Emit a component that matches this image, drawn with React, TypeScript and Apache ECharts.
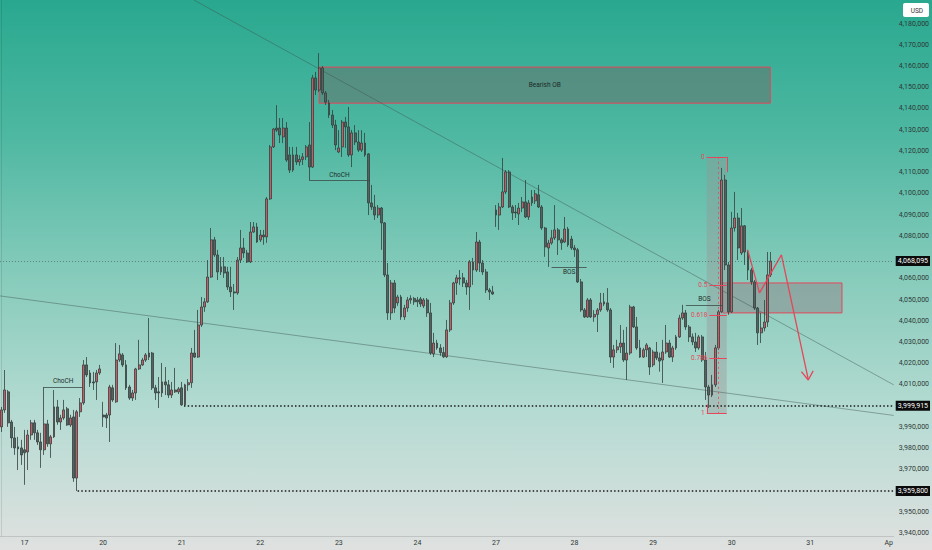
import React, { useEffect, useRef } from 'react';
import * as echarts from 'echarts';

// hourly candles, price in thousands: [open, close, low, high]
const day16 = [
  [3990.0, 3998.0, 3987.6, 3999.4], [3998.0, 4007.4, 3996.6, 4016.8], [4006.5, 3991.9, 3990.0, 4007.4],
  [3992.3, 3984.8, 3980.1, 3993.3], [3984.8, 3980.1, 3976.8, 3990.0], [3980.6, 3979.6, 3969.7, 3985.3],
  [3980.1, 3976.8, 3972.1, 3983.9],
];
const day17 = [
  [3979.2, 3977.8, 3962.7, 3988.6], [3978.2, 3986.2, 3969.7, 3988.6], [3986.2, 3991.9, 3983.9, 3993.3],
  [3991.9, 3987.2, 3983.9, 3993.3], [3987.2, 3982.9, 3981.5, 3988.6], [3982.9, 3979.2, 3970.7, 3987.2],
  [3979.2, 3991.4, 3976.8, 4008.8], [3991.4, 3982.0, 3980.6, 3993.3], [3982.0, 3985.3, 3975.4, 3986.2],
  [3985.3, 3999.4, 3984.8, 4007.4], [3999.4, 3992.3, 3991.0, 4002.7], [3992.3, 3994.2, 3988.6, 3995.7],
  [3994.2, 3998.0, 3993.3, 4002.7], [3998.5, 3990.9, 3990.5, 3999.4], [3990.9, 3994.2, 3990.0, 3995.7],
  [3994.7, 3965.9, 3964.1, 3998.0], [3965.9, 3997.1, 3959.8, 3998.0], [3997.1, 4001.3, 3994.7, 4003.6],
  [4001.3, 4019.2, 4000.4, 4021.5], [4019.2, 4014.5, 4013.5, 4022.9], [4015.4, 4010.7, 4008.8, 4016.8],
  [4011.2, 4010.7, 4007.4, 4015.9], [4011.2, 4015.4, 4002.7, 4016.8], [4015.4, 4017.3, 4014.5, 4019.2],
];
const day20 = [
  [3995.6, 3994.7, 3990.0, 4001.8], [3995.6, 3994.2, 3989.5, 3996.6], [3995.6, 4008.8, 3982.9, 4009.8],
  [4008.4, 4002.7, 4001.8, 4009.8], [4001.8, 4021.5, 4001.3, 4029.5], [4021.5, 4024.4, 4020.6, 4028.6],
  [4023.9, 4019.2, 4018.2, 4024.8], [4019.2, 4008.4, 4007.4, 4021.5], [4008.8, 4003.6, 4002.7, 4009.8],
  [4003.6, 4006.0, 4002.2, 4007.4], [4006.0, 4017.3, 4002.7, 4017.8], [4017.3, 4019.2, 4016.8, 4031.0],
  [4019.2, 4021.5, 4018.7, 4022.5], [4021.5, 4023.9, 4020.6, 4024.8], [4024.8, 4022.9, 4021.5, 4041.3],
  [4024.8, 4008.4, 4007.4, 4025.3], [4008.4, 4006.0, 4002.7, 4009.8], [4006.5, 4006.0, 3998.9, 4013.5],
  [4006.0, 4011.2, 4004.1, 4020.1], [4011.2, 4009.8, 4005.0, 4018.2], [4009.8, 4005.0, 4003.6, 4012.1],
  [4005.0, 4007.4, 4003.6, 4011.2], [4007.4, 4006.5, 4006.0, 4017.8], [4006.5, 4007.9, 4005.5, 4008.8],
];
const day21 = [
  [4008.4, 4000.4, 3999.9, 4011.2], [4000.4, 4009.8, 3999.9, 4010.3], [4009.8, 4010.8, 4007.0, 4012.5],
  [4010.8, 4024.8, 4008.4, 4027.2], [4024.8, 4022.9, 4022.5, 4035.7], [4022.9, 4038.0, 4022.5, 4045.1],
  [4038.0, 4046.5, 4037.1, 4051.2], [4046.5, 4048.9, 4044.2, 4050.7], [4048.9, 4060.6, 4048.4, 4068.6],
  [4060.6, 4078.1, 4060.2, 4083.7], [4078.1, 4071.0, 4070.1, 4079.5], [4071.0, 4063.0, 4059.2, 4073.4],
  [4063.0, 4065.4, 4061.6, 4070.0], [4065.4, 4062.5, 4060.2, 4070.0], [4063.0, 4055.9, 4054.5, 4065.4],
  [4055.9, 4053.6, 4051.2, 4065.4], [4053.6, 4053.1, 4045.1, 4057.3], [4053.1, 4068.6, 4052.2, 4070.0],
  [4068.6, 4074.3, 4067.2, 4082.8], [4074.3, 4071.9, 4069.6, 4079.0], [4071.9, 4067.7, 4067.2, 4073.4],
  [4067.7, 4081.8, 4067.2, 4086.5], [4081.8, 4084.2, 4081.4, 4086.5], [4084.2, 4077.1, 4076.7, 4086.1],
];
const day22 = [
  [4078.1, 4080.4, 4077.1, 4082.8], [4080.4, 4079.5, 4075.8, 4082.8], [4079.5, 4097.4, 4076.7, 4098.3],
  [4097.4, 4121.9, 4096.9, 4122.8], [4121.9, 4130.3, 4121.4, 4130.8], [4130.8, 4129.8, 4128.9, 4141.6],
  [4130.8, 4127.5, 4123.7, 4135.5], [4126.6, 4130.8, 4123.7, 4135.5], [4130.8, 4115.7, 4114.8, 4133.6],
  [4118.1, 4111.0, 4109.6, 4121.9], [4111.0, 4118.1, 4110.1, 4121.9], [4118.1, 4114.8, 4113.4, 4121.9],
  [4114.8, 4116.0, 4113.0, 4118.0], [4116.0, 4117.2, 4113.4, 4119.0], [4117.2, 4121.9, 4115.7, 4122.8],
  [4122.8, 4112.4, 4106.3, 4133.6], [4112.4, 4154.4, 4112.0, 4155.8], [4154.4, 4148.7, 4146.4, 4157.2],
  [4148.7, 4159.1, 4147.8, 4166.1], [4159.1, 4147.3, 4146.4, 4160.0], [4147.3, 4143.0, 4141.6, 4148.2],
  [4142.6, 4136.9, 4135.5, 4144.0], [4136.9, 4132.2, 4130.8, 4139.3], [4132.2, 4122.8, 4120.4, 4134.6],
];
const day23 = [
  [4119.5, 4121.4, 4119.0, 4129.8], [4121.9, 4133.6, 4117.2, 4134.6], [4133.6, 4131.3, 4121.4, 4136.0],
  [4131.3, 4118.1, 4117.2, 4140.7], [4118.1, 4128.5, 4112.4, 4129.9], [4128.5, 4124.2, 4122.8, 4132.2],
  [4124.2, 4120.4, 4119.5, 4129.8], [4120.4, 4123.7, 4119.5, 4129.8], [4123.7, 4118.1, 4117.2, 4128.5],
  [4118.6, 4095.5, 4089.8, 4119.0], [4095.5, 4093.6, 4092.2, 4104.0], [4093.6, 4089.8, 4087.5, 4099.3],
  [4089.8, 4093.1, 4088.4, 4094.5], [4093.1, 4086.1, 4073.4, 4093.6], [4086.1, 4061.6, 4060.6, 4086.5],
  [4061.6, 4043.7, 4040.4, 4067.2], [4043.7, 4057.8, 4040.4, 4059.2], [4057.8, 4046.0, 4043.7, 4059.2],
  [4048.4, 4051.2, 4047.0, 4052.2], [4051.2, 4041.8, 4040.4, 4052.2], [4041.8, 4046.0, 4040.4, 4047.5],
  [4046.0, 4049.8, 4044.2, 4051.2], [4049.8, 4050.5, 4048.0, 4052.0], [4050.5, 4048.9, 4047.5, 4051.2],
];
const day24 = [
  [4049.8, 4048.9, 4046.5, 4051.2], [4050.3, 4047.9, 4046.5, 4051.2], [4047.0, 4049.8, 4046.0, 4050.7],
  [4049.8, 4043.7, 4041.8, 4050.7], [4043.7, 4024.8, 4023.9, 4048.4], [4024.4, 4029.5, 4022.9, 4034.3],
  [4029.5, 4027.2, 4026.3, 4031.0], [4027.2, 4025.0, 4023.5, 4029.0], [4025.0, 4023.0, 4022.5, 4027.7],
  [4023.0, 4035.7, 4022.5, 4040.4], [4035.7, 4048.4, 4034.7, 4049.8], [4048.4, 4057.8, 4047.5, 4058.3],
  [4057.8, 4060.2, 4052.2, 4061.6], [4059.7, 4060.2, 4056.9, 4063.9], [4060.2, 4057.8, 4055.9, 4062.5],
  [4057.8, 4055.9, 4052.2, 4059.2], [4055.9, 4067.7, 4045.1, 4068.6], [4067.7, 4063.9, 4056.9, 4069.6],
  [4063.9, 4077.1, 4063.0, 4081.8], [4077.1, 4067.2, 4063.0, 4078.1], [4067.2, 4063.0, 4061.6, 4068.6],
  [4063.0, 4054.5, 4053.1, 4064.4], [4054.5, 4053.6, 4049.8, 4055.4], [4053.6, 4052.6, 4052.2, 4056.4],
];
const day27 = [
  [4092.2, 4089.8, 4084.2, 4094.5], [4089.8, 4093.6, 4082.8, 4095.5], [4093.6, 4100.7, 4093.1, 4116.7],
  [4100.7, 4110.1, 4099.7, 4111.0], [4110.1, 4093.6, 4093.1, 4111.0], [4093.6, 4090.8, 4087.5, 4094.5],
  [4091.2, 4090.8, 4088.4, 4094.5], [4090.3, 4093.1, 4085.1, 4095.5], [4093.1, 4096.0, 4091.2, 4098.3],
  [4096.0, 4088.9, 4088.4, 4106.3], [4088.9, 4095.5, 4087.5, 4096.9], [4095.5, 4098.3, 4094.1, 4101.6],
  [4096.5, 4099.8, 4095.0, 4101.6], [4099.3, 4093.6, 4093.1, 4104.0], [4093.6, 4083.7, 4082.8, 4094.5],
  [4083.7, 4074.8, 4070.1, 4084.2], [4074.3, 4076.6, 4065.4, 4078.1], [4076.6, 4079.0, 4075.8, 4082.8],
  [4079.0, 4082.8, 4078.1, 4094.5], [4082.8, 4078.1, 4071.0, 4083.7], [4078.1, 4076.7, 4073.4, 4079.0],
  [4077.1, 4083.2, 4076.7, 4088.9], [4083.2, 4075.7, 4074.8, 4084.2], [4078.5, 4074.3, 4073.4, 4080.0],
];
const day28 = [
  [4074.3, 4073.4, 4070.1, 4075.7], [4073.4, 4058.3, 4057.8, 4074.3], [4058.3, 4045.1, 4044.2, 4059.7],
  [4045.1, 4041.8, 4041.3, 4046.0], [4041.8, 4049.8, 4041.3, 4050.7], [4049.8, 4041.8, 4041.3, 4050.7],
  [4041.8, 4043.0, 4039.5, 4045.0], [4043.0, 4045.1, 4034.7, 4046.0], [4045.1, 4048.4, 4044.2, 4053.1],
  [4047.9, 4048.9, 4046.9, 4053.1], [4048.4, 4045.1, 4044.2, 4055.4], [4045.1, 4022.9, 4020.1, 4046.0],
  [4022.9, 4026.3, 4017.8, 4028.6], [4026.3, 4027.7, 4024.8, 4031.0], [4027.7, 4029.5, 4024.8, 4038.0],
  [4029.5, 4021.5, 4020.6, 4035.7], [4021.5, 4024.8, 4012.1, 4037.1], [4024.8, 4046.5, 4023.9, 4047.5],
  [4046.5, 4037.1, 4036.6, 4047.0], [4037.1, 4027.2, 4026.3, 4041.8], [4027.2, 4022.9, 4022.5, 4031.0],
  [4022.9, 4026.3, 4022.5, 4027.2], [4026.3, 4028.6, 4022.9, 4029.5], [4027.2, 4018.2, 4014.5, 4027.7],
];
const day29 = [
  [4019.2, 4025.3, 4018.2, 4026.3], [4025.3, 4022.5, 4021.5, 4030.0], [4022.5, 4021.0, 4016.0, 4025.0],
  [4021.5, 4025.3, 4010.7, 4031.0], [4025.3, 4029.5, 4024.4, 4038.0], [4029.5, 4022.9, 4022.5, 4031.0],
  [4022.9, 4027.2, 4020.6, 4028.2], [4027.2, 4032.4, 4026.3, 4033.3], [4032.4, 4041.3, 4031.9, 4042.8],
  [4041.3, 4043.7, 4040.4, 4047.5], [4043.7, 4037.1, 4035.7, 4045.1], [4037.1, 4032.4, 4030.0, 4038.0],
  [4032.4, 4030.0, 4028.5, 4034.0], [4030.0, 4027.2, 4025.3, 4034.3], [4027.2, 4032.4, 4026.3, 4033.3],
  [4032.4, 4021.5, 4020.6, 4033.3], [4021.5, 4008.8, 4002.7, 4025.3], [4008.8, 4005.0, 3998.9, 4009.8],
  [4005.0, 4009.8, 4004.1, 4014.5], [4009.8, 4027.2, 4008.8, 4028.6], [4027.2, 4044.2, 4026.3, 4045.1],
  [4044.2, 4106.3, 4043.7, 4112.0], [4106.3, 4066.3, 4063.9, 4108.7], [4066.3, 4044.2, 4042.8, 4067.7],
];
const day30 = [
  [4044.2, 4083.7, 4043.7, 4091.3], [4083.7, 4088.4, 4082.0, 4100.7], [4088.4, 4074.3, 4068.6, 4090.8],
  [4071.9, 4084.7, 4071.0, 4093.1], [4084.7, 4072.4, 4066.3, 4085.1], [4072.4, 4063.9, 4059.2, 4073.4],
  [4063.9, 4058.3, 4056.9, 4064.9], [4058.3, 4046.0, 4045.1, 4059.2], [4046.0, 4034.3, 4028.6, 4046.5],
  [4034.3, 4036.6, 4029.5, 4043.7], [4036.6, 4039.4, 4035.0, 4049.8], [4039.4, 4061.6, 4037.1, 4072.4],
  [4061.6, 4068.1, 4060.6, 4072.4],
];

const dayLabels = ['17', '20', '21', '22', '23', '24', '27', '28', '29', '30', '31', 'Ap'];
const firstDayStart = 7;
const barsPerDay = 24;
const slotCount = 273;

const lastPrice = 4068.095;
const lowA = 3999.915;
const lowB = 3959.8;

// annotations: [slot index, price in thousands]
const trendUpper = [[58.7, 4191.1], [272.5, 4009.8]];
const trendLower = [[-0.5, 4051.7], [272.5, 3995.4]];
const projection = [[227.9, 4073.4], [231.5, 4053.1], [238.2, 4071.0], [246.4, 4012.4]];
const arrowHead = [[244.3, 4016.0], [246.4, 4012.1], [247.9, 4016.4]];
const bearishOB = [[97.0, 4159.5], [234.8, 4142.5]];
const supplyZone = [[220.3, 4057.8], [256.7, 4043.7]];
const fibBand = [[215.4, 4117.2], [221.5, 3996.6]];
const fibLevels = [0, 0.5, 0.618, 0.786, 1];
const structureMarks = [
  { text: 'ChoCH', from: 12.9, to: 24.7, price: 4008.8, above: true },
  { text: 'ChoCH', from: 93.9, to: 112.5, price: 4106.3, above: true },
  { text: 'BOS', from: 168.0, to: 178.7, price: 4065.4, above: false },
  { text: 'BOS', from: 209.0, to: 220.3, price: 4047.5, above: true },
];

const RED = '#e4475b';
const fmt = (k: number) => Math.round(k * 1000).toLocaleString('en-US');

const App: React.FC = () => {
  const chartRef = useRef<HTMLDivElement>(null);

  useEffect(() => {
    document.body.style.margin = '0';
    if (!chartRef.current) return;
    const chart = echarts.init(chartRef.current, null, { renderer: 'svg' });

    const candles = [...day16, ...day17, ...day20, ...day21, ...day22, ...day23, ...day24, ...day27, ...day28, ...day29, ...day30];
    const slots = Array.from({ length: slotCount }, (_, i) => String(i));
    const isDayStart = (i: number) => i >= firstDayStart && (i - firstDayStart) % barsPerDay === 0;
    // price-scale ticks hidden under the highlighted price boxes
    const boxed = [lastPrice, lowA, lowB];

    const fibHigh = fibBand[0][1];
    const fibLow = fibBand[1][1];

    const priceLine = (start: number, price: number, style: any) => [
      {
        coord: [start, price],
        lineStyle: style,
        label: {
          show: true, position: 'end', distance: 2, formatter: fmt(price),
          color: '#fff', backgroundColor: '#0b0b0b', padding: [2, 2, 1, 2], fontSize: 7, fontFamily: 'Roboto',
        },
      },
      { coord: [272.5, price] },
    ];

    const structLines = structureMarks.map((m) => [
      {
        coord: [m.from, m.price],
        lineStyle: { color: '#3b4b48', width: 0.8, type: 'solid' },
        label: {
          show: true, formatter: m.text, position: m.above ? 'insideMiddleTop' : 'insideMiddleBottom',
          color: '#1e2e2b', fontSize: 6.5, fontFamily: 'Roboto', distance: 2,
        },
      },
      { coord: [m.to, m.price] },
    ]);

    const fibLines = fibLevels.map((lv) => {
      const p = fibHigh - lv * (fibHigh - fibLow);
      return [
        {
          coord: [fibBand[0][0] + (lv > 0 && lv < 1 ? 0.8 : 0), p],
          lineStyle: { color: RED, width: 1, type: 'solid' },
          label: { show: true, position: 'start', formatter: String(lv), color: RED, fontSize: 6.5, fontFamily: 'Roboto', distance: 2 },
        },
        { coord: [fibBand[1][0], p] },
      ];
    });

    const option: any = {
      animation: false,
      grid: { left: 0, right: 33, top: 0, bottom: 14 },
      xAxis: [
        {
          type: 'category',
          data: slots,
          boundaryGap: true,
          axisLine: { show: true, lineStyle: { color: 'rgba(0,0,0,0.12)' } },
          axisTick: { show: false },
          splitLine: { show: false },
          axisLabel: {
            interval: (i: number) => isDayStart(i),
            formatter: (_v: string, i: number) => dayLabels[(i - firstDayStart) / barsPerDay] ?? '',
            color: '#2c3836', fontSize: 7, fontFamily: 'Roboto', margin: 3,
          },
        },
        { type: 'value', min: -0.5, max: slotCount - 0.5, show: false },
      ],
      yAxis: {
        type: 'value',
        position: 'right',
        min: 3938.6,
        max: 4191.1,
        splitNumber: 25,
        axisLine: { show: true, lineStyle: { color: 'rgba(0,0,0,0.1)' } },
        axisTick: { show: false },
        splitLine: { show: false },
        axisLabel: {
          showMinLabel: false, showMaxLabel: false,
          formatter: (v: number) =>
            v > 4185 || v < 3939 || boxed.some((b) => Math.abs(b - v) < 4) ? '' : fmt(v),
          color: '#2c3836', fontSize: 7, fontFamily: 'Roboto', margin: 5,
        },
      },
      graphic: [
        { type: 'rect', right: 3, top: 3, shape: { width: 26, height: 14, r: 2 }, style: { fill: '#fff' } },
        { type: 'text', right: 9, top: 7, style: { text: 'USD', fontSize: 6.5, fill: '#333', fontFamily: 'Roboto' } },
      ],
      series: [
        {
          type: 'candlestick',
          data: candles,
          barWidth: 2.4,
          itemStyle: {
            color: '#c65c67', color0: '#56625f',
            borderColor: '#34403e', borderColor0: '#34403e', borderWidth: 0.8,
          },
          z: 3,
        },
        {
          type: 'line', xAxisIndex: 1, data: trendUpper, symbol: 'none', silent: true,
          lineStyle: { color: 'rgba(60,80,76,0.55)', width: 0.8 }, z: 1,
          markArea: {
            silent: true,
            data: [
              [
                {
                  coord: bearishOB[0],
                  itemStyle: { color: 'rgba(105,110,105,0.5)', borderColor: RED, borderWidth: 1 },
                  label: { show: true, position: 'inside', formatter: 'Bearish OB', color: '#1c2a28', fontSize: 6.5, fontFamily: 'Roboto' },
                },
                { coord: bearishOB[1] },
              ],
              [
                {
                  coord: supplyZone[0],
                  itemStyle: { color: 'rgba(140,140,140,0.55)', borderColor: RED, borderWidth: 1 },
                  label: { show: false },
                },
                { coord: supplyZone[1] },
              ],
              [
                { coord: fibBand[0], itemStyle: { color: 'rgba(150,150,150,0.4)', borderWidth: 0 }, label: { show: false } },
                { coord: fibBand[1] },
              ],
            ],
          },
          markLine: {
            silent: true,
            symbol: ['none', 'none'],
            label: { show: false },
            data: [
              priceLine(-0.5, lastPrice, { color: 'rgba(50,60,58,0.6)', width: 0.8, type: [1, 2] }),
              priceLine(55.7, lowA, { color: '#1a1a1a', width: 1.5, type: [1.5, 2.2] }),
              priceLine(23.2, lowB, { color: '#1a1a1a', width: 1.5, type: [1.5, 2.2] }),
              ...structLines,
              ...fibLines,
              [
                { coord: [218.8, fibHigh], lineStyle: { color: RED, width: 0.8, type: [2, 3] } },
                { coord: [218.8, fibLow] },
              ],
              [
                { coord: [fibBand[1][0], fibHigh], lineStyle: { color: RED, width: 1, type: 'solid' } },
                { coord: [fibBand[1][0], 4110.0] },
              ],
              [
                { coord: [fibBand[0][0], fibLow], lineStyle: { color: RED, width: 1, type: 'solid' } },
                { coord: [fibBand[0][0], 4000.5] },
              ],
            ],
          },
        },
        {
          type: 'line', xAxisIndex: 1, data: trendLower, symbol: 'none', silent: true,
          lineStyle: { color: 'rgba(60,80,76,0.55)', width: 0.8 }, z: 1,
        },
        {
          type: 'line', xAxisIndex: 1, data: projection, symbol: 'none', silent: true,
          lineStyle: { color: RED, width: 1.3 }, z: 4,
        },
        {
          type: 'line', xAxisIndex: 1, data: arrowHead, symbol: 'none', silent: true,
          lineStyle: { color: RED, width: 1.3 }, z: 4,
        },
      ],
    };

    chart.setOption(option);
    return () => chart.dispose();
  }, []);

  return (
    <div
      style={{
        width: 932,
        height: 550,
        background: 'linear-gradient(180deg, #29a88f 0%, #4fb8a2 25%, #86cbbb 50%, #b5dbd2 75%, #dfe1e0 100%)',
      }}
    >
      <div ref={chartRef} style={{ width: 932, height: 550 }} />
    </div>
  );
};

export default App;
